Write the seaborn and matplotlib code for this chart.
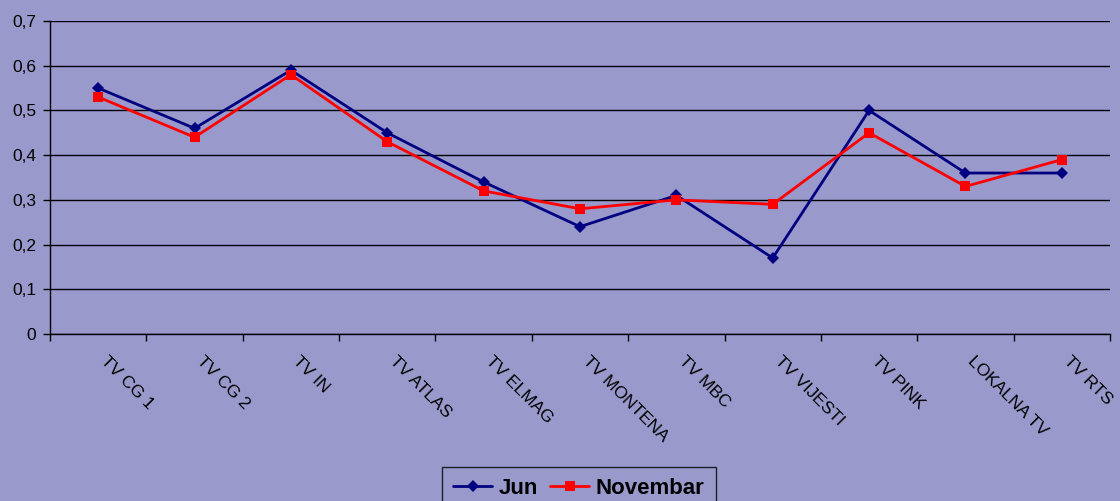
import pandas as pd
import numpy as np
import matplotlib
matplotlib.use("Agg")
import matplotlib.pyplot as plt
import matplotlib.transforms as mtransforms
import seaborn as sns
from matplotlib.ticker import FixedLocator, FuncFormatter

# Data
categories = ["TV CG 1", "TV CG 2", "TV IN", "TV ATLAS", "TV ELMAG", "TV MONTENA",
              "TV MBC", "TV VIJESTI", "TV PINK", "LOKALNA TV", "TV RTS"]
jun = [0.55, 0.46, 0.59, 0.45, 0.34, 0.24, 0.31, 0.17, 0.50, 0.36, 0.36]
novembar = [0.53, 0.44, 0.58, 0.43, 0.32, 0.28, 0.30, 0.29, 0.45, 0.33, 0.39]

bg = "#9999CC"

sns.set_style("white")
plt.rcParams['font.family'] = ['Liberation Sans', 'DejaVu Sans']
plt.rcParams['text.color'] = "black"
plt.rcParams['xtick.color'] = "black"
plt.rcParams['ytick.color'] = "black"

df = pd.DataFrame({
    "kanal": categories * 2,
    "vrijednost": jun + novembar,
    "mjesec": ["Jun"] * len(jun) + ["Novembar"] * len(novembar),
})

fig = plt.figure(figsize=(11.2, 5.01), dpi=100)
fig.patch.set_facecolor(bg)
ax = fig.add_axes([50 / 1120, 1 - 334 / 501, 1060 / 1120, 313 / 501])
ax.set_facecolor(bg)

palette = {"Jun": "#000080", "Novembar": "#FF0000"}
markers = {"Jun": "D", "Novembar": "s"}
sns.lineplot(data=df, x="kanal", y="vrijednost", hue="mjesec", style="mjesec",
             palette=palette, markers=markers, dashes=False, linewidth=2,
             markersize=6, markeredgewidth=0, sort=False, ax=ax, legend=False)
# the square marker is a bit bigger in the original
for line in ax.lines:
    if line.get_marker() == "s":
        line.set_markersize(7)

ax.set_xlim(-0.5, len(categories) - 0.5)
ax.set_ylim(0, 0.7)
ax.set_yticks(np.arange(0, 0.71, 0.1))
ax.yaxis.set_major_formatter(FuncFormatter(lambda v, p: ("%.1f" % v).replace(".", ",") if v > 0 else "0"))
ax.yaxis.grid(True, color="black", linewidth=1)
ax.set_axisbelow(True)

ax.set_xticks(range(len(categories)))
ax.set_xticklabels(categories, rotation=-45, ha="left", va="top", rotation_mode="anchor")
ax.tick_params(axis="x", which="major", bottom=True, length=0, pad=14, labelsize=12.5, labelcolor="black")
ax.xaxis.set_minor_locator(FixedLocator(np.arange(-0.5, len(categories), 1.0)))
ax.tick_params(axis="x", which="minor", bottom=True, length=5, width=1, color="black", direction="out")
ax.tick_params(axis="y", left=True, length=5, width=1, color="black", direction="out",
               labelsize=12.5, labelcolor="black", pad=5)

# nudge rotated labels to the right like the original
offset = mtransforms.ScaledTranslation(10 / 100, 0, fig.dpi_scale_trans)
for lab in ax.get_xticklabels():
    lab.set_transform(lab.get_transform() + offset)

for s in ["top", "right"]:
    ax.spines[s].set_visible(False)
for s in ["left", "bottom"]:
    ax.spines[s].set_color("black")
    ax.spines[s].set_linewidth(1)

ax.set_xlabel("")
ax.set_ylabel("")

handles = [plt.Line2D([0], [0], color=palette[k], marker=markers[k], linewidth=2,
                      markersize=6 if k == "Jun" else 7, markeredgewidth=0, label=k)
           for k in ["Jun", "Novembar"]]
leg = fig.legend(handles=handles, loc="upper center", bbox_to_anchor=(579 / 1120, 1 - 467 / 501),
                 ncol=2, frameon=True, fancybox=False, handlelength=1.75, columnspacing=0.55,
                 handletextpad=0.3, borderpad=0.5, borderaxespad=0, labelcolor="black",
                 prop={"weight": "bold", "size": 16})
leg.get_frame().set_facecolor(bg)
leg.get_frame().set_edgecolor("black")
leg.get_frame().set_linewidth(1)

fig.savefig("out.png", dpi=100, facecolor=bg)
